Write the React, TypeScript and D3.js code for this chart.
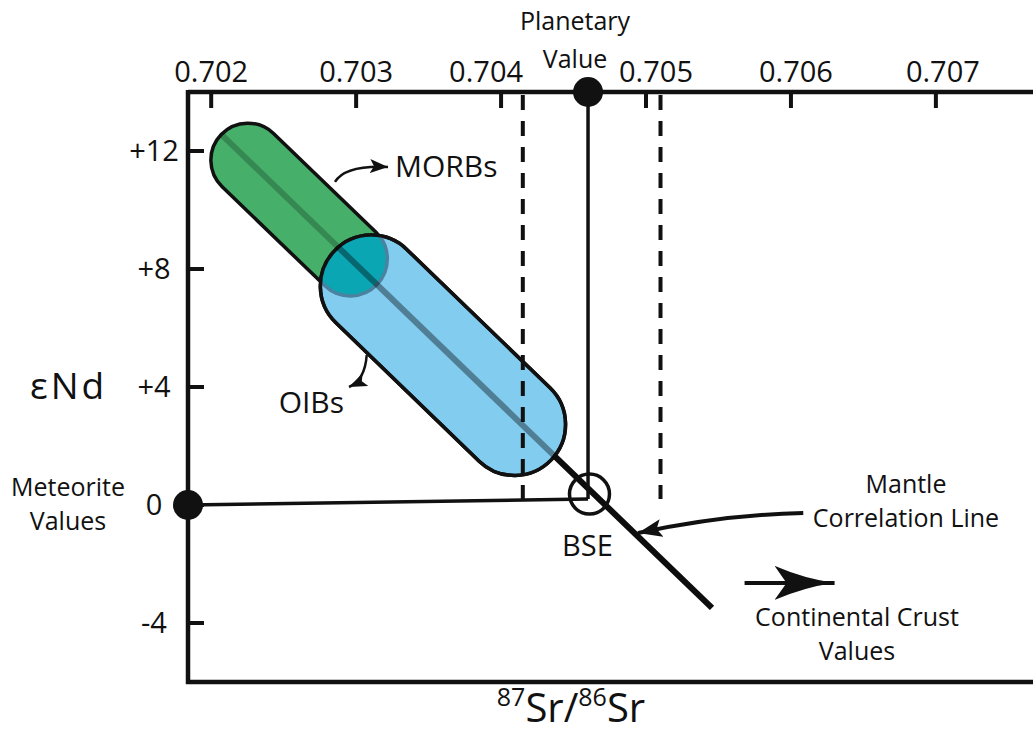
import React from "react";
import * as d3 from "d3";

// axis setup
const srDomain = [0.70184, 0.70767];
const ndDomain = [-6, 14];
const srTicks = [0.702, 0.703, 0.704, 0.705, 0.706, 0.707];
const ndTicks = [12, 8, 4, 0, -4];
const ndTickLabels = ["+12", "+8", "+4", "0", "-4"];

// fields (capsule end centres) and the mantle array
const morbField = [{ sr: 0.702253, nd: 11.69 }, { sr: 0.70296, nd: 8.34 }];
const oibField = [{ sr: 0.703105, nd: 7.42 }, { sr: 0.704093, nd: 2.73 }];
const correlationLine = [{ sr: 0.702075, nd: 12.54 }, { sr: 0.705455, nd: -3.49 }];

// reference values
const planetary = { sr: 0.7046, nd: 14 };
const meteorite = { sr: 0.70184, nd: 0 };
const bseJoin = { sr: 0.7046, nd: 0.2 };
const bse = { sr: 0.70461, nd: 0.37 };
const dashedSr = [0.70415, 0.7051];

// annotation arrows: start, control, end
const morbArrow = [{ sr: 0.702854, nd: 10.95 }, { sr: 0.702923, nd: 11.53 }, { sr: 0.70322, nd: 11.46 }];
const oibArrow = [{ sr: 0.703073, nd: 5.08 }, { sr: 0.703061, nd: 4.24 }, { sr: 0.702951, nd: 4.0 }];
const mantleArrow = [{ sr: 0.706085, nd: -0.27 }, { sr: 0.70553, nd: -0.33 }, { sr: 0.704945, nd: -0.95 }];
const crustArrow = [{ sr: 0.70568, nd: -2.64 }, { sr: 0.706301, nd: -2.64 }];

const W = 1033;
const H = 738;
const FONT = "'Open Sans', 'Noto Sans', sans-serif";
const labelShift: Record<string, number> = { "0.704": -15, "0.705": 10, "0.706": 5, "0.707": 7 };

const x = d3.scaleLinear().domain(srDomain).range([188, 1033]);
const y = d3.scaleLinear().domain(ndDomain).range([682, 92]);

type P = { sr: number; nd: number };

function capsule(a: P, b: P, r: number) {
  const x1 = x(a.sr), y1 = y(a.nd), x2 = x(b.sr), y2 = y(b.nd);
  const len = Math.hypot(x2 - x1, y2 - y1);
  const ang = (Math.atan2(y2 - y1, x2 - x1) * 180) / Math.PI;
  return { x: -r, y: -r, width: len + 2 * r, height: 2 * r, rx: r, ry: r, transform: `translate(${x1},${y1}) rotate(${ang})` };
}

function curve(pts: P[]) {
  const p = d3.path();
  p.moveTo(x(pts[0].sr), y(pts[0].nd));
  p.quadraticCurveTo(x(pts[1].sr), y(pts[1].nd), x(pts[2].sr), y(pts[2].nd));
  return p.toString();
}

export default function App() {
  const green = capsule(morbField[0], morbField[1], 37);
  const blue = capsule(oibField[0], oibField[1], 51);
  const line = d3.line<P>().x(d => x(d.sr)).y(d => y(d.nd));
  const top = y(ndDomain[1]);
  const bottom = y(ndDomain[0]);
  const left = x(srDomain[0]);

  return (
    <svg width={W} height={H} style={{ position: "absolute", left: 0, top: 0, background: "#fff" }} fontFamily={FONT}>
      <defs>
        <clipPath id="oibClip">
          <rect {...blue} />
        </clipPath>
        <marker id="head" markerUnits="userSpaceOnUse" markerWidth={20} markerHeight={16} refX={18} refY={7} orient="auto">
          <path d="M0,0 L18,7 L0,14 L4,7 Z" fill="#111" />
        </marker>
        <marker id="headBig" markerUnits="userSpaceOnUse" markerWidth={26} markerHeight={20} refX={24} refY={9} orient="auto">
          <path d="M0,0 L24,9 L0,18 L5,9 Z" fill="#111" />
        </marker>
        <marker id="crustHead" markerUnits="userSpaceOnUse" markerWidth={62} markerHeight={36} refX={60} refY={17} orient="auto">
          <path d="M0,0 Q30,13 60,17 Q30,21 0,34 L12,17 Z" fill="#111" />
        </marker>
      </defs>

      {/* mantle correlation line, underneath the fields */}
      <path d={line(correlationLine) || ""} stroke="#111" strokeWidth={6} fill="none" />

      {/* MORB and OIB fields */}
      <rect {...green} fill="#46af69" stroke="#111" strokeWidth={3.5} />
      <rect {...blue} fill="#82ccf0" stroke="#111" strokeWidth={3.5} />
      <g clipPath="url(#oibClip)">
        <rect {...green} fill="#0ba6b4" stroke="#4a82a0" strokeWidth={3.5} />
      </g>
      <rect {...blue} fill="none" stroke="#111" strokeWidth={3.5} />

      {/* line seen through the fields */}
      <path d={line(correlationLine) || ""} stroke="#000" strokeOpacity={0.22} strokeWidth={6} fill="none" />
      <g clipPath="url(#oibClip)">
        <path d={line(correlationLine) || ""} stroke="#000" strokeOpacity={0.2} strokeWidth={6} fill="none" />
      </g>

      {/* dashed limits */}
      {dashedSr.map(s => (
        <line key={s} x1={x(s)} x2={x(s)} y1={top + 3} y2={y(bseJoin.nd)} stroke="#111" strokeWidth={4} strokeDasharray="15 11" />
      ))}

      {/* planetary and meteorite values joining at BSE */}
      <line x1={x(planetary.sr)} x2={x(bseJoin.sr)} y1={y(planetary.nd)} y2={y(bseJoin.nd)} stroke="#111" strokeWidth={3.5} />
      <line x1={x(meteorite.sr)} x2={x(bseJoin.sr)} y1={y(meteorite.nd)} y2={y(bseJoin.nd)} stroke="#111" strokeWidth={3.5} />
      <circle cx={x(bse.sr)} cy={y(bse.nd)} r={20} fill="none" stroke="#111" strokeWidth={3.5} />

      {/* axes */}
      <line x1={left} x2={W} y1={top} y2={top} stroke="#111" strokeWidth={4.5} />
      <line x1={left - 2} x2={W} y1={bottom} y2={bottom} stroke="#111" strokeWidth={4.5} />
      <line x1={left} x2={left} y1={top - 2} y2={bottom + 2} stroke="#111" strokeWidth={4.5} />
      {srTicks.map(t => (
        <g key={t}>
          <line x1={x(t)} x2={x(t)} y1={top} y2={top + 16} stroke="#111" strokeWidth={4} />
          <text x={x(t) + (labelShift[t.toFixed(3)] || 0)} y={top - 10} fontSize={29} textAnchor="middle" fill="#111">
            {t.toFixed(3)}
          </text>
        </g>
      ))}
      {ndTicks.map((t, i) => (
        <g key={t}>
          <line x1={left} x2={left + 16} y1={y(t)} y2={y(t)} stroke="#111" strokeWidth={4} />
          <text x={154} y={y(t)} dy="0.36em" fontSize={29} textAnchor="middle" fill="#111">
            {ndTickLabels[i]}
          </text>
        </g>
      ))}

      <circle cx={x(planetary.sr)} cy={y(planetary.nd)} r={15} fill="#111" />
      <circle cx={x(meteorite.sr)} cy={y(meteorite.nd)} r={15} fill="#111" />

      {/* axis titles */}
      <text x={30} y={y(4) + 12} fontSize={37} letterSpacing={3} fill="#111">εNd</text>
      <text x={571} y={722} textAnchor="middle" fill="#111">
        <tspan fontSize={25} dy={-16}>87</tspan>
        <tspan fontSize={40} dy={16}>Sr/</tspan>
        <tspan fontSize={25} dy={-16}>86</tspan>
        <tspan fontSize={40} dy={16}>Sr</tspan>
      </text>

      {/* annotations */}
      <path d={curve(morbArrow)} fill="none" stroke="#111" strokeWidth={2.5} markerEnd="url(#head)" />
      <path d={curve(oibArrow)} fill="none" stroke="#111" strokeWidth={2.5} markerEnd="url(#head)" />
      <path d={curve(mantleArrow)} fill="none" stroke="#111" strokeWidth={4} markerEnd="url(#headBig)" />
      <line x1={x(crustArrow[0].sr)} x2={x(crustArrow[1].sr)} y1={y(crustArrow[0].nd)} y2={y(crustArrow[1].nd)} stroke="#111" strokeWidth={4} markerEnd="url(#crustHead)" />

      <g fill="#111" fontSize={25}>
        <text x={x(morbArrow[2].sr) + 7} y={y(morbArrow[2].nd) + 10} fontSize={30}>MORBs</text>
        <text x={x(oibArrow[2].sr) - 5} y={y(oibArrow[2].nd) + 26} fontSize={30} textAnchor="end">OIBs</text>
        <text x={x(bse.sr) - 2} y={y(bse.nd) + 62} fontSize={29} textAnchor="middle">BSE</text>
        <text x={x(planetary.sr) - 13} y={30} textAnchor="middle">Planetary</text>
        <text x={x(planetary.sr) - 13} y={68} textAnchor="middle">Value</text>
        <text x={68} y={y(meteorite.nd) - 9} textAnchor="middle">Meteorite</text>
        <text x={68} y={y(meteorite.nd) + 25} textAnchor="middle">Values</text>
        <text x={906} y={493} textAnchor="middle">Mantle</text>
        <text x={906} y={527} textAnchor="middle">Correlation Line</text>
        <text x={857} y={626} textAnchor="middle">Continental Crust</text>
        <text x={857} y={660} textAnchor="middle">Values</text>
      </g>
    </svg>
  );
}
